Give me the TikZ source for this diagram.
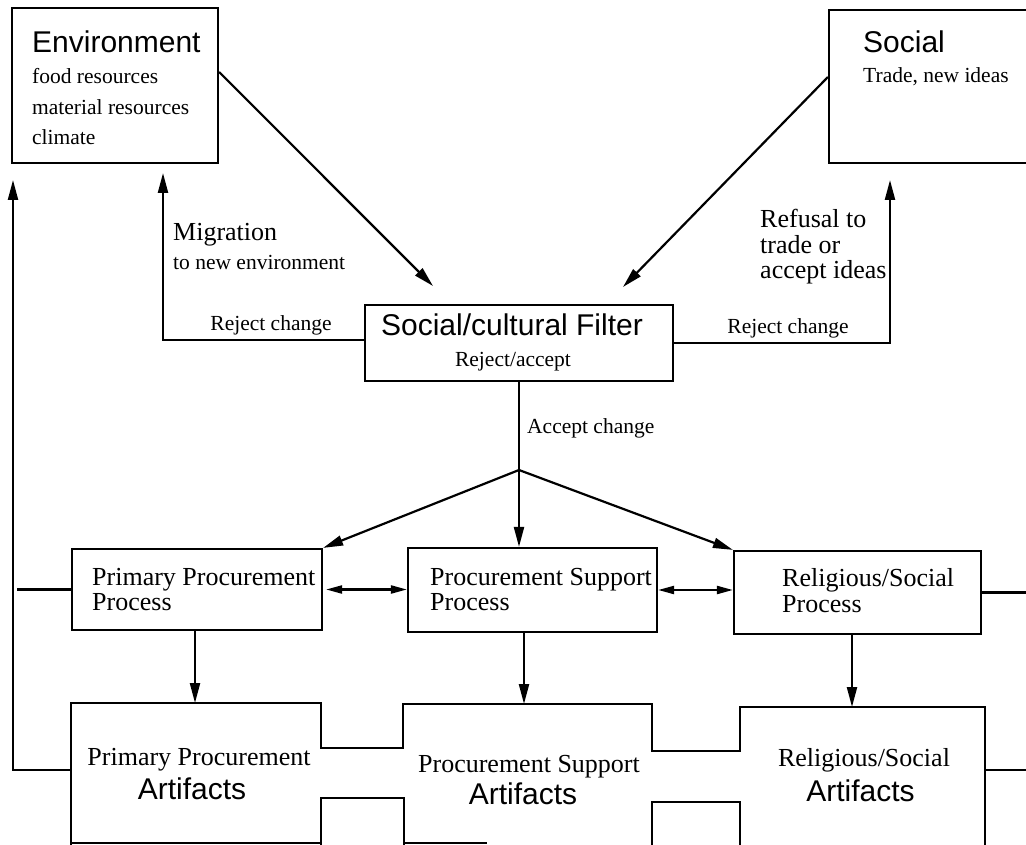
\documentclass[tikz,border=0pt]{standalone}
\usepackage{fontspec}
\setmainfont{Liberation Serif}
\setsansfont{Liberation Sans}
\usetikzlibrary{arrows.meta,calc}
\begin{document}
\begin{tikzpicture}[x=1pt,y=-1pt,
  ln/.style={line width=2.2pt,line join=miter},
  box/.style={draw,line width=2.2pt,inner sep=0pt},
  arr/.style={ln,-{Triangle[length=20pt,width=10pt]}},
  dbl/.style={ln,{Triangle[length=16pt,width=8pt]}-{Triangle[length=16pt,width=8pt]}},
  lbl/.style={inner sep=0pt,font=\fontsize{21.5}{22}\selectfont},
  big/.style={inner sep=0pt,align=left,font=\fontsize{26}{25.5}\selectfont},
  head/.style={inner sep=0pt,font=\sffamily\fontsize{30}{30}\selectfont}]
\clip (0,0) rectangle (1026,845);
% boxes
\node[box,minimum width=206pt,minimum height=155pt] (env) at (115,85.5) {};
\node[box,minimum width=216pt,minimum height=153pt] (soc) at (937,86.5) {};
\node[box,minimum width=308pt,minimum height=76pt] (filt) at (519,343) {};
\node[box,minimum width=250pt,minimum height=81pt] (ppp) at (197,589.5) {};
\node[box,minimum width=249pt,minimum height=84pt] (psp) at (532.5,590) {};
\node[box,minimum width=247pt,minimum height=83pt] (rsp) at (857.5,592.5) {};
% box texts
\node[head,anchor=west] (envh) at (32,42) {Environment};
\node[lbl,anchor=west] (env1) at (32,76) {food resources};
\node[lbl,anchor=west] (env2) at (32,107) {material resources};
\node[lbl,anchor=west] (env3) at (32,137) {climate};
\node[head,anchor=west] (soch) at (863,42) {Social};
\node[lbl,anchor=west] (soc1) at (863,77) {Trade, new ideas};
\node[head] (filth) at (512,325) {Social/cultural Filter};
\node[lbl] (filt1) at (513,362) {Reject/accept};
\node[big,anchor=west] (pppt) at (92,589.5) {Primary Procurement\\Process};
\node[big,anchor=west] (pspt) at (430,589.5) {Procurement Support\\Process};
\node[big,anchor=west] (rspt) at (782,590.5) {Religious/Social\\Process};
% artifacts outline
\draw[ln] (71,850) -- (71,703) -- (321,703) -- (321,748) -- (403,748) -- (403,704)
  -- (652,704) -- (652,751) -- (740,751) -- (740,707) -- (985,707) -- (985,850);
\draw[ln] (321,850) -- (321,798) -- (404,798) -- (404,850);
\draw[ln] (652,850) -- (652,802) -- (740,802) -- (740,850);
\draw[ln] (71,843) -- (321,843);
\draw[ln] (404,843) -- (487,843);
\node[big] (ppa1) at (199,760) {Primary Procurement};
\node[head] (ppa2) at (192,789) {Artifacts};
\node[big] (psa1) at (529,767) {Procurement Support};
\node[head] (psa2) at (523,794) {Artifacts};
\node[big] (rsa1) at (864,760) {Religious/Social};
\node[head] (rsa2) at (860.5,791) {Artifacts};
% coordinates
\coordinate (fin1) at (433,286);
\coordinate (fin2) at (623,287);
\coordinate (mig) at (163,173);
\coordinate (ref) at (890,180);
\coordinate (split) at (519,470);
\coordinate (pa1) at (195,703);
\coordinate (pa2) at (524,704);
\coordinate (pa3) at (852,707);
\coordinate (ppaL) at (71,770);
\coordinate (lft) at (13,180);
\coordinate (pppL) at (17,589.5);
\coordinate (rspR) at (1030,592.5);
\coordinate (rsaE) at (985,770);
\coordinate (rsaR) at (1030,770);
% connectors
\draw[arr] ([yshift=13.5pt]env.east) -- (fin1);
\draw[arr] ([yshift=9.5pt]soc.west) -- (fin2);
\draw[arr] ([yshift=3pt]filt.west) -| (mig);
\draw[arr] (filt.east) -| (ref);
\draw[ln] (filt.south) -- (split);
\draw[arr] (split) -- (ppp.north east);
\draw[arr] (split) -- (split |- psp.north);
\draw[arr] (split) -- (rsp.north west);
\draw[dbl,shorten <=3pt] (ppp.east) -- (ppp.east -| psp.west);
\draw[dbl] (psp.east) -- (psp.east -| rsp.west);
\draw[arr] (ppp.south -| pa1) -- (pa1);
\draw[arr] (psp.south -| pa2) -- (pa2);
\draw[arr] (rsp.south -| pa3) -- (pa3);
\draw[arr] (ppaL) -- (ppaL -| lft) -- (lft);
\draw[ln] (ppp.west) -- (pppL);
\draw[ln] (rsp.east) -- (rspR);
\draw[ln] (rsaE) -- (rsaR);
% connector labels
\node[big,anchor=west] (migt) at (173,235) {Migration};
\node[lbl,anchor=west] (migt2) at (173,262) {to new environment};
\node[lbl] (rejl) at (271,325) {Reject change};
\node[lbl] (rejr) at (788,328) {Reject change};
\node[big,anchor=west] (reft) at (760,247) {Refusal to\\trade or\\accept ideas};
\node[lbl,anchor=west] (acc) at (527,428) {Accept change};
\end{tikzpicture}
\end{document}
